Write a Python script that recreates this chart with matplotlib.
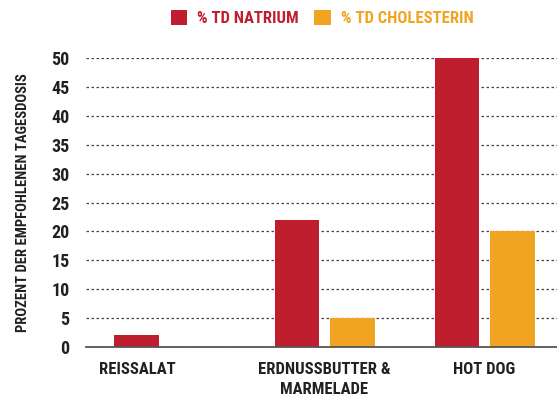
import matplotlib.pyplot as plt
import numpy as np

categories = ['REISSALAT', 'ERDNUSSBUTTER &\nMARMELADE', 'HOT DOG']
natrium = [2, 22, 50]
cholesterin = [0, 5, 20]
yticks = [0, 5, 10, 15, 20, 25, 30, 35, 40, 45, 50]

red = '#BE1E2D'
orange = '#F0A422'
txt = '#231F20'

plt.rcParams['font.family'] = ['Roboto Condensed', 'DejaVu Sans']
plt.rcParams['font.stretch'] = 'condensed'
plt.rcParams['font.weight'] = 'bold'

fig = plt.figure(figsize=(5.57, 4.07), dpi=100)
ax = fig.add_axes([0.1544, 0.148, 0.8456, 0.7088])

x = np.arange(len(categories))
w = 0.281
off = 0.172
ax.bar(x - off, natrium, w, color=red, label='% TD NATRIUM', zorder=3)
ax.bar(x + off, cholesterin, w, color=orange, label='% TD CHOLESTERIN', zorder=3)

# label sits over the bars that actually show
tick_pos = []
for i in range(len(categories)):
    ps = []
    if natrium[i] > 0:
        ps.append(x[i] - off)
    if cholesterin[i] > 0:
        ps.append(x[i] + off)
    tick_pos.append(np.mean(ps))
ax.set_xticks(tick_pos)
ax.set_xticklabels(categories, fontsize=12, color=txt, linespacing=1.45)
ax.set_yticks(yticks)
ax.set_yticklabels([str(v) for v in yticks], fontsize=13, color=txt)
ax.tick_params(length=0)
ax.tick_params(axis='x', pad=11)
ax.tick_params(axis='y', pad=12)

ax.set_xlim(-0.4906, 2.453)
ax.set_ylim(0, 50)
ax.yaxis.grid(True, linestyle=(0, (2, 2)), color='#444444', linewidth=0.9, zorder=0)
for s in ['left', 'right', 'top']:
    ax.spines[s].set_visible(False)
ax.spines['bottom'].set_color('#555555')
ax.spines['bottom'].set_linewidth(1.3)
ax.spines['bottom'].set_zorder(4)

ax.set_ylabel('PROZENT DER EMPFOHLENEN TAGESDOSIS', fontsize=10.5, color=txt, fontweight='bold')
ax.yaxis.set_label_coords(-0.118, 0.5)

leg = fig.legend(loc='upper center', bbox_to_anchor=(0.578, 1.012), ncol=2, frameon=False,
                 fontsize=12, handlelength=1.0, handleheight=1.0, handletextpad=0.6,
                 columnspacing=0.9)
for t, c in zip(leg.get_texts(), [red, orange]):
    t.set_color(c)

plt.savefig('out.png', dpi=100)
